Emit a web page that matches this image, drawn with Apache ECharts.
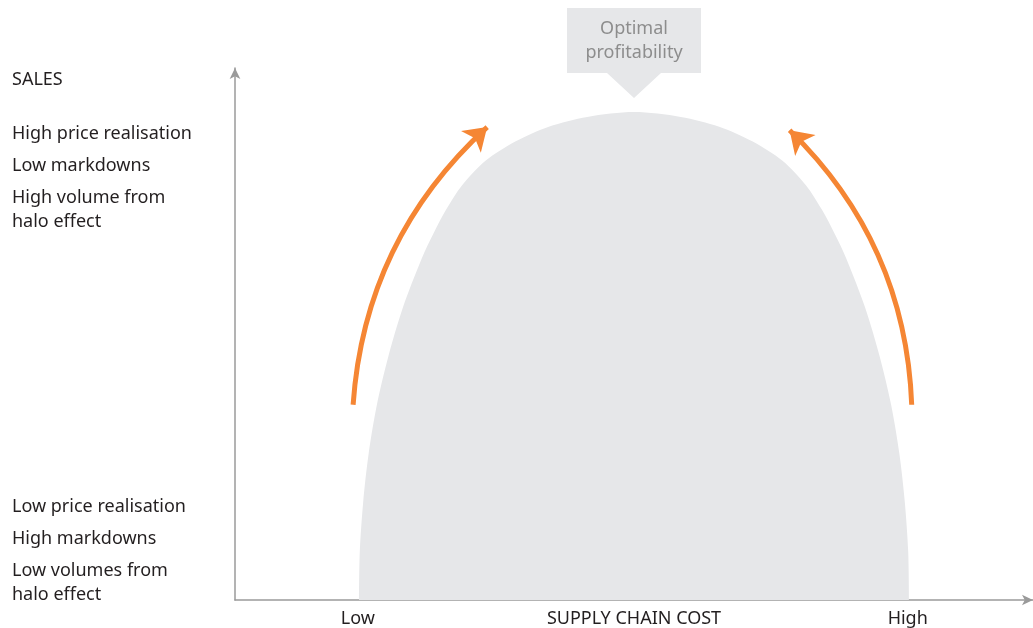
<!DOCTYPE html>
<html>
<head>
<meta charset="utf-8">
<script src="https://cdn.jsdelivr.net/npm/echarts@6/dist/echarts.min.js"></script>
<style>
  html, body { margin: 0; padding: 0; background: #fff; }
  #chart { width: 1033px; height: 628px; }
</style>
</head>
<body>
<div id="chart"></div>
<script>
// hump of profitability, x = supply chain cost (0-100), y = sales (0-100)
var humpX = [15.54, 15.64, 16.06, 16.75, 17.78, 19.23, 21.05, 23.40, 24.84, 26.46, 28.46, 31.39, 35.18, 39.32, 44.14, 50.0,
  55.86, 60.68, 64.82, 68.61, 71.54, 73.54, 75.16, 76.60, 78.95, 80.77, 82.22, 83.25, 83.94, 84.36, 84.46]
var humpY = [0, 9.17, 18.35, 27.52, 36.69, 45.87, 55.04, 64.21, 68.80, 73.38, 77.97, 82.56, 86.23, 88.98, 90.81, 91.73,
  90.81, 88.98, 86.23, 82.56, 77.97, 73.38, 68.80, 64.21, 55.04, 45.87, 36.69, 27.52, 18.35, 9.17, 0]
var peak = [50.0, 91.73]

// orange arrows: [start, end]
var leftArrow = [[14.8, 36.7], [31.6, 88.9]]
var rightArrow = [[84.8, 36.7], [69.5, 88.3]]

var xTickValues = [15.4, 84.3]
var xTickLabels = ['Low', 'High']

var highLines = ['High price realisation', 'Low markdowns', 'High volume from', 'halo effect']
var lowLines = ['Low price realisation', 'High markdowns', 'Low volumes from', 'halo effect']

var font = 'Noto Sans'
var textColor = '#231f20'

var chart = echarts.init(document.getElementById('chart'))

function textBlock(lines, top) {
  var offs = [0, 32, 64, 88]
  return lines.map(function (t, i) {
    return {
      type: 'text',
      left: 12,
      top: top + offs[i],
      style: { text: t, font: '18px "' + font + '"', fill: textColor }
    }
  })
}

chart.setOption({
  animation: false,
  grid: { left: 235, right: 0, top: 68, bottom: 28, outerBoundsMode: 'none' },
  xAxis: {
    type: 'value',
    min: 0,
    max: 100,
    name: 'SUPPLY CHAIN COST',
    nameLocation: 'middle',
    nameGap: 10,
    nameMoveOverlap: false,
    nameTextStyle: { color: textColor, fontFamily: font, fontSize: 18, verticalAlign: 'top' },
    axisLine: {
      show: true,
      lineStyle: { color: '#9a9a9a', width: 1.5 },
      symbol: ['none', 'arrow'],
      symbolSize: [8, 11]
    },
    axisTick: { show: false },
    splitLine: { show: false },
    axisLabel: {
      customValues: xTickValues,
      formatter: function (v) {
        var i = xTickValues.indexOf(v)
        return i >= 0 ? xTickLabels[i] : ''
      },
      margin: 10,
      color: textColor,
      fontFamily: font,
      fontSize: 18,
      verticalAlign: 'top'
    }
  },
  yAxis: {
    type: 'value',
    min: 0,
    max: 100,
    axisLine: {
      show: true,
      lineStyle: { color: '#9a9a9a', width: 1.5 },
      symbol: ['none', 'arrow'],
      symbolSize: [8, 11]
    },
    axisTick: { show: false },
    splitLine: { show: false },
    axisLabel: { show: false }
  },
  series: [
    {
      type: 'line',
      data: humpX.map(function (x, i) { return [x, humpY[i]] }),
      smooth: 0.3,
      symbol: 'none',
      lineStyle: { width: 0 },
      areaStyle: { color: '#e6e7e9', opacity: 1 },
      z: 1,
      markPoint: {
        silent: true,
        data: [{ coord: peak }],
        symbol: 'path://M0,0 L134,0 L134,65 L94,65 L67,90 L40,65 L0,65 Z',
        symbolSize: [134, 90],
        symbolOffset: [0, -59],
        itemStyle: { color: '#e6e7e9' },
        label: {
          show: true,
          position: 'inside',
          offset: [0, -12],
          formatter: 'Optimal\nprofitability',
          color: '#8d8d8d',
          fontFamily: font,
          fontSize: 18,
          lineHeight: 24
        }
      }
    },
    {
      type: 'lines',
      coordinateSystem: 'cartesian2d',
      symbol: ['none', 'arrow'],
      symbolSize: 22,
      lineStyle: { color: '#f58634', width: 5, opacity: 1 },
      z: 3,
      data: [
        { coords: leftArrow, lineStyle: { curveness: 0.2 } },
        { coords: rightArrow, lineStyle: { curveness: -0.2 } }
      ]
    }
  ],
  graphic: [
    {
      type: 'text',
      left: 12,
      top: 71,
      style: { text: 'SALES', font: '18px "' + font + '"', fill: textColor }
    }
  ].concat(textBlock(highLines, 125), textBlock(lowLines, 498))
})
</script>
</body>
</html>
